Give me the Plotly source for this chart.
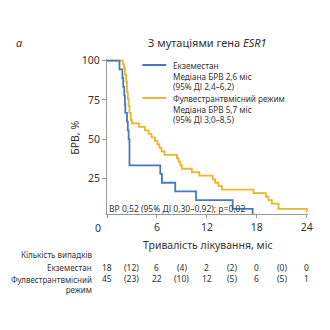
import plotly.graph_objects as go

# ---- data ----
exe_t = [0, 1.5, 1.85, 1.95, 2.07, 2.15, 2.2, 2.4, 2.5, 2.6, 2.7, 6.4, 6.6, 8.2, 10.7, 15.1, 17.5]
exe_s = [100, 94.4, 88.9, 83.3, 77.8, 72.2, 66.7, 61.1, 55.6, 50, 33.3, 27.8, 22.2, 16.7, 11.1, 5.6, 0]

ful_t = [0, 1.9, 2.05, 2.15, 2.3, 2.4, 2.5, 2.6, 2.7, 2.85, 3.0, 3.85, 4.55, 5.0, 5.35, 5.75, 6.05,
         6.3, 6.55, 6.9, 8.4, 8.6, 8.8, 9.0, 10.2, 11.1, 12.7, 13.0, 13.4, 13.8, 17.6, 19.1, 19.4,
         19.8, 20.6, 24]
ful_s = [100, 97.8, 95.6, 91.1, 86.7, 80, 75.6, 71.1, 66.7, 62.2, 60, 57.8, 55.6, 53.3, 51.1, 48.9, 46.7,
         44.4, 42.2, 40, 37.8, 35.6, 33.3, 31.1, 28.9, 26.7, 24.4, 22.2, 20, 17.8, 15.6, 13.3, 11.1,
         8.9, 5.5, 3.3]

x_ticks = [0, 6, 12, 18, 24]
y_ticks = [25, 50, 75, 100]
risk_times = [0, 3, 6, 9, 12, 15, 18, 21, 24]
risk_exe = ["18", "(12)", "6", "(4)", "2", "(2)", "0", "(0)", "0"]
risk_ful = ["45", "(23)", "22", "(10)", "12", "(5)", "6", "(5)", "1"]

legend_exe = "Екземестан<br>Медіана БРВ 2,6 міс<br>(95% ДІ 2,4–6,2)"
legend_ful = "Фулвестрантвмісний режим<br>Медіана БРВ 5,7 міс<br>(95% ДІ 3,0–8,5)"
title_txt = "З мутаціями гена <i>ESR1</i>"
hr_txt = "ВР 0,52 (95% ДІ 0,30–0,92); p=0,02"

BLUE = "#4678c2"
YELLOW = "#e8b82a"
TXT = "#333333"
FONT = "Noto Sans"

# ---- geometry (pixels) ----
W = H = 330
L, R_PX = 106.5, 308.3
T_PX, B_PX = 58.7, 214.0
XR = [0, 24.15]
YR = [2.3, 101]
pw = R_PX - L
ph = B_PX - T_PX


def px(xp):
    return (xp - L) / pw


def py(yp):
    return (B_PX - yp) / ph


fig = go.Figure()
fig.add_trace(go.Scatter(x=ful_t, y=ful_s, mode="lines", line=dict(color=YELLOW, width=1.8, shape="hv"),
                         name="Фулвестрантвмісний режим", showlegend=False))
fig.add_trace(go.Scatter(x=exe_t, y=exe_s, mode="lines", line=dict(color=BLUE, width=1.8, shape="hv"),
                         name="Екземестан", showlegend=False))

ann = []


def txt(x, y, text, size, anchor="center", align="left", xref="paper", yanchor="middle"):
    ann.append(dict(x=x, y=y, xref=xref, yref="paper", text=text, showarrow=False, align=align,
                    borderpad=0, font=dict(size=size, color=TXT, family=FONT),
                    xanchor=anchor, yanchor=yanchor))


# title and panel letter
txt(px(207), py(41.7), title_txt, 11)
txt(px(18), py(41.7), "<i>а</i>", 11)
# legend
txt(px(172), py(58.5), legend_exe, 8.2, anchor="left", yanchor="top")
txt(px(172), py(91.5), legend_ful, 8.2, anchor="left", yanchor="top")
# HR text
txt(px(108), py(208.5), hr_txt, 8.5, anchor="left")
# y title
ann.append(dict(x=px(75), y=py(138), xref="paper", yref="paper", text="БРВ, %", showarrow=False,
                textangle=-90, font=dict(size=10.5, color=TXT, family=FONT), xanchor="center", yanchor="middle"))
# x "0" label
txt(px(97), py(228), "0", 10.5)
# x title
txt(px(207.5), py(245), "Тривалість лікування, міс", 10.5)
# risk table
txt(px(92), py(255), "Кількість випадків", 8, anchor="right")
txt(px(92), py(268), "Екземестан", 8, anchor="right")
txt(px(92), py(273.6), "Фулвестрантвмісний<br>режим", 8, anchor="right", align="right", yanchor="top")
for t, a, b in zip(risk_times, risk_exe, risk_ful):
    txt(t, py(268), a, 8.5, xref="x")
    txt(t, py(278.6), b, 8.5, xref="x")

shapes = [
    dict(type="line", xref="paper", yref="paper", x0=px(142), x1=px(166), y0=py(64.7), y1=py(64.7),
         line=dict(color=BLUE, width=2)),
    dict(type="line", xref="paper", yref="paper", x0=px(142), x1=px(166), y0=py(97.7), y1=py(97.7),
         line=dict(color=YELLOW, width=2)),
]

fig.update_layout(
    width=W, height=H,
    margin=dict(l=L, r=W - R_PX, t=T_PX, b=H - B_PX, pad=0),
    paper_bgcolor="white", plot_bgcolor="white",
    showlegend=False,
    annotations=ann, shapes=shapes,
    font=dict(family=FONT, color=TXT),
    xaxis=dict(range=XR, tickvals=x_ticks, ticktext=["", "6", "12", "18", "24"], showgrid=False,
               zeroline=False, showline=True, linecolor="#9a9a9a", linewidth=1, ticks="outside",
               ticklen=3, tickcolor="#9a9a9a", tickfont=dict(size=10.5, color=TXT, family=FONT),
               fixedrange=True),
    yaxis=dict(range=YR, tickvals=y_ticks, showgrid=False, zeroline=False, showline=True,
               linecolor="#9a9a9a", linewidth=1, ticks="outside", ticklen=4, tickcolor="#9a9a9a",
               tickfont=dict(size=10.5, color=TXT, family=FONT), fixedrange=True),
)

fig.write_html("out.html")
